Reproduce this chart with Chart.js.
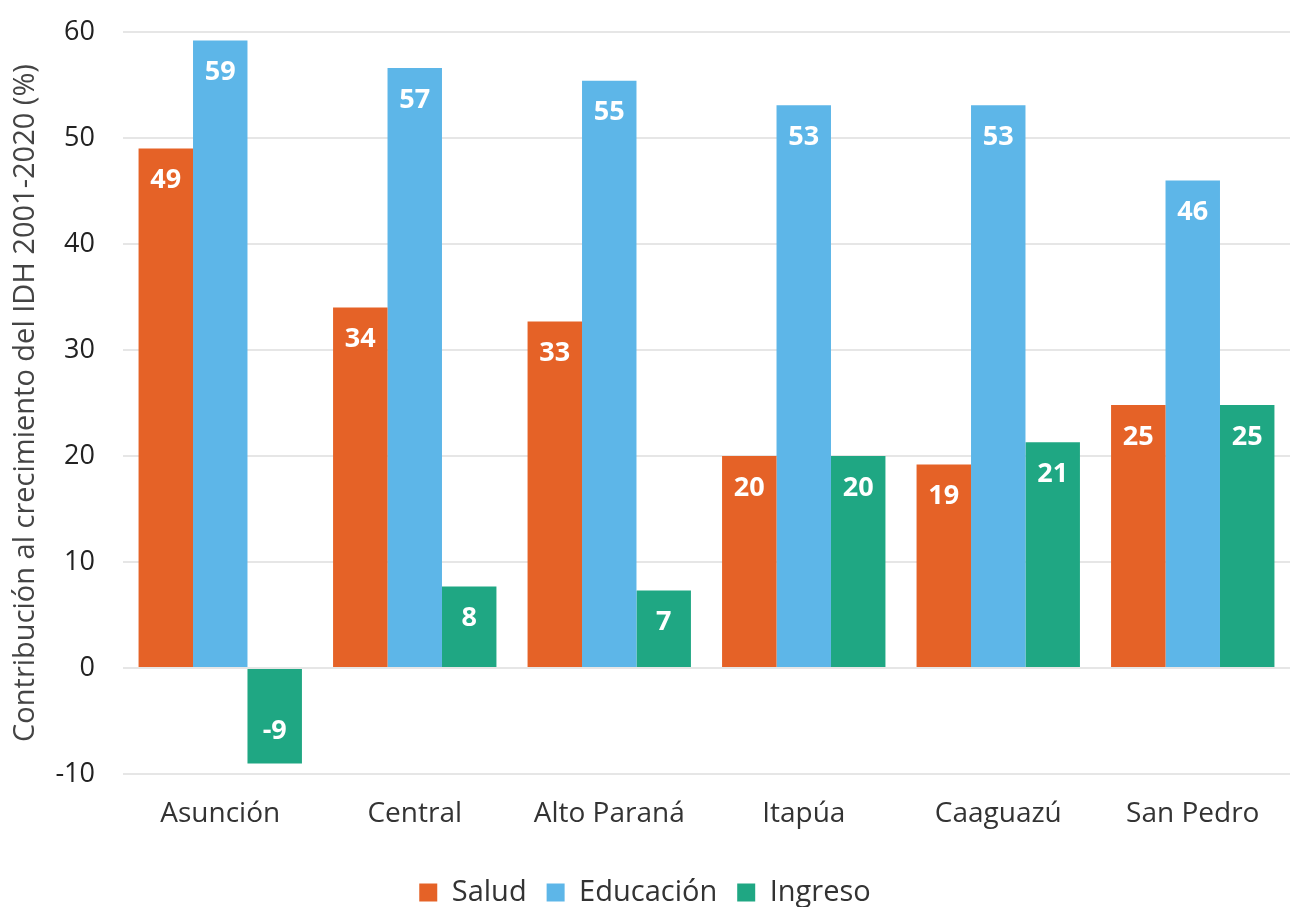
<!DOCTYPE html>
<html>
<head>
<meta charset="utf-8">
<script src="https://cdn.jsdelivr.net/npm/chart.js@4"></script>
<style>
html,body{margin:0;padding:0;background:#fff;}
#wrap{width:1291px;height:907px;position:relative;}
</style>
</head>
<body>
<div id="wrap"><canvas id="c" width="1291" height="907"></canvas></div>
<script>
const categories = ["Asunción", "Central", "Alto Paraná", "Itapúa", "Caaguazú", "San Pedro"];
const salud = [49, 34, 33, 20, 19, 25];
const educacion = [59, 57, 55, 53, 53, 46];
const ingreso = [-9, 8, 7, 20, 21, 25];
const saludPlot = [49, 34, 32.7, 20, 19.2, 24.8];
const educacionPlot = [59.2, 56.6, 55.4, 53.1, 53.1, 46];
const ingresoPlot = [-9, 7.7, 7.3, 20, 21.3, 24.8];
const yTicks = [-10, 0, 10, 20, 30, 40, 50, 60];
const FONT = "'Open Sans', sans-serif";

const labelPlugin = {
  id: 'barLabels',
  afterDatasetsDraw(chart) {
    const ctx = chart.ctx;
    const labels = [salud, educacion, ingreso];
    ctx.save();
    ctx.fillStyle = '#ffffff';
    ctx.font = "bold 27px " + FONT;
    ctx.textAlign = 'center';
    ctx.textBaseline = 'middle';
    chart.data.datasets.forEach((ds, di) => {
      const meta = chart.getDatasetMeta(di);
      meta.data.forEach((bar, i) => {
        const v = labels[di][i];
        const y = v >= 0 ? bar.y + 32 : bar.y - 32;
        ctx.fillText(String(v), bar.x, y);
      });
    });
    ctx.restore();
  }
};

new Chart(document.getElementById('c'), {
  type: 'bar',
  data: {
    labels: categories,
    datasets: [
      { label: 'Salud', data: saludPlot, backgroundColor: '#E56227' },
      { label: 'Educación', data: educacionPlot, backgroundColor: '#5DB6E8' },
      { label: 'Ingreso', data: ingresoPlot, backgroundColor: '#1FA783' }
    ]
  },
  options: {
    responsive: false,
    animation: false,
    devicePixelRatio: 1,
    layout: { padding: { top: 32, right: 1, left: 0, bottom: -10 } },
    datasets: { bar: { categoryPercentage: 0.84, barPercentage: 1.0 } },
    scales: {
      x: {
        grid: { display: false },
        border: { display: false },
        ticks: { color: '#333', font: { family: FONT, size: 28 }, padding: 15 },
        afterFit(scale) { scale.height = 84; }
      },
      y: {
        min: -10, max: 60,
        afterBuildTicks(axis) { axis.ticks = yTicks.map(v => ({ value: v })); },
        grid: { color: '#e6e6e6', lineWidth: 2, drawTicks: true, tickLength: 28, tickColor: 'rgba(0,0,0,0)' },
        border: { display: false },
        ticks: { color: '#222', font: { family: FONT, size: 27 }, padding: 0 },
        title: { display: true, text: 'Contribución al crecimiento del IDH 2001-2020 (%)', color: '#444', font: { family: FONT, size: 29 }, padding: { top: 8, bottom: 0 } },
        afterFit(scale) { scale.width = 123; }
      }
    },
    plugins: {
      legend: {
        position: 'bottom',
        labels: { color: '#333', font: { family: FONT, size: 29 }, boxWidth: 18, boxHeight: 18, padding: 20 }
      },
      tooltip: { enabled: false }
    }
  },
  plugins: [labelPlugin]
});
</script>
</body>
</html>
